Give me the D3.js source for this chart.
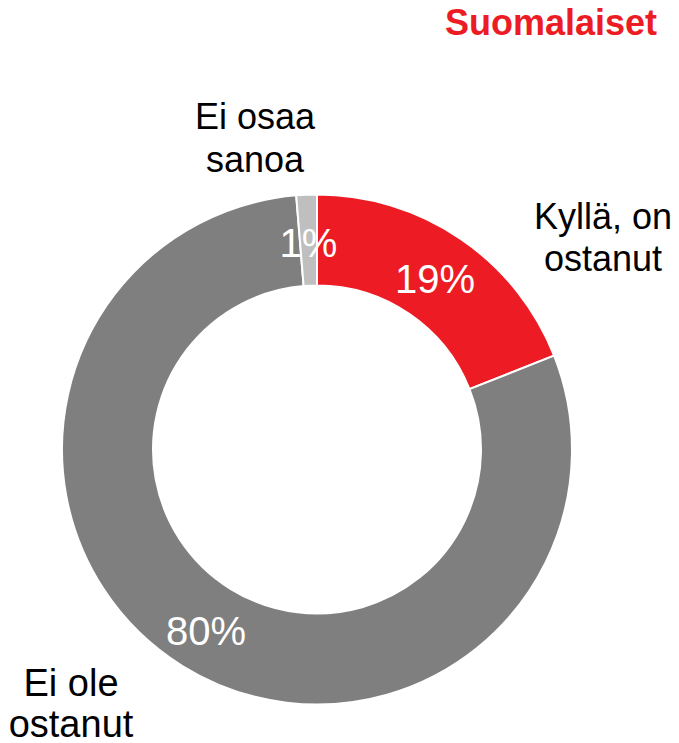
<!DOCTYPE html>
<html><head><meta charset="utf-8">
<script src="https://cdn.jsdelivr.net/npm/d3@7"></script>
<style>body{margin:0;background:#fff}svg{display:block}text{font-family:"Liberation Sans",Arial,sans-serif}</style>
</head><body>
<script>
const title = "Suomalaiset";
const categories = ["Kyllä, on ostanut", "Ei ole ostanut", "Ei osaa sanoa"];
const values = [19.0, 79.7, 1.3];
const valueLabels = ["19%", "80%", "1%"];
const colors = ["#ED1C24", "#7F7F7F", "#BFBFBF"];

const W = 679, H = 743;
const cx = 317, cy = 449.5, outerR = 255, innerR = 164;
const svg = d3.select("body").append("svg").attr("width", W).attr("height", H);

const data = categories.map((c, i) => ({cat: c, value: values[i], label: valueLabels[i], color: colors[i]}));
const pie = d3.pie().value(d => d.value).sort(null);
const arc = d3.arc().innerRadius(innerR).outerRadius(outerR);
const labelArc = d3.arc().innerRadius(210).outerRadius(210);
const arcs = pie(data);

const g = svg.append("g").attr("transform", `translate(${cx},${cy})`);
g.selectAll("path").data(arcs).join("path")
  .attr("d", arc).attr("fill", d => d.data.color)
  .attr("stroke", "#fff").attr("stroke-width", 2);

g.selectAll("text.val").data(arcs).join("text").attr("class", "val")
  .attr("transform", d => `translate(${labelArc.centroid(d)})`)
  .attr("text-anchor", "middle").attr("dy", "0.43em")
  .attr("fill", "#fff").attr("font-size", 40)
  .text(d => d.data.label);

// category labels (outside)
const catPos = [
  {x: 603, y: 229, lines: ["Kyllä, on", "ostanut"], size: 36, gap: 42},
  {x: 71, y: 696, lines: ["Ei ole", "ostanut"], size: 38, gap: 41},
  {x: 255, y: 129, lines: ["Ei osaa", "sanoa"], size: 36, gap: 43}
];
catPos.forEach((p, i) => {
  const t = svg.append("text").attr("x", p.x).attr("y", p.y)
    .attr("text-anchor", "middle").attr("font-size", p.size).attr("fill", "#000");
  p.lines.forEach((l, j) => t.append("tspan").attr("x", p.x).attr("dy", j === 0 ? 0 : p.gap).text(l));
});

svg.append("text").attr("x", 657).attr("y", 35).attr("text-anchor", "end")
  .attr("font-size", 36).attr("font-weight", "bold").attr("fill", "#ED1C24").text(title);
</script>
</body></html>
